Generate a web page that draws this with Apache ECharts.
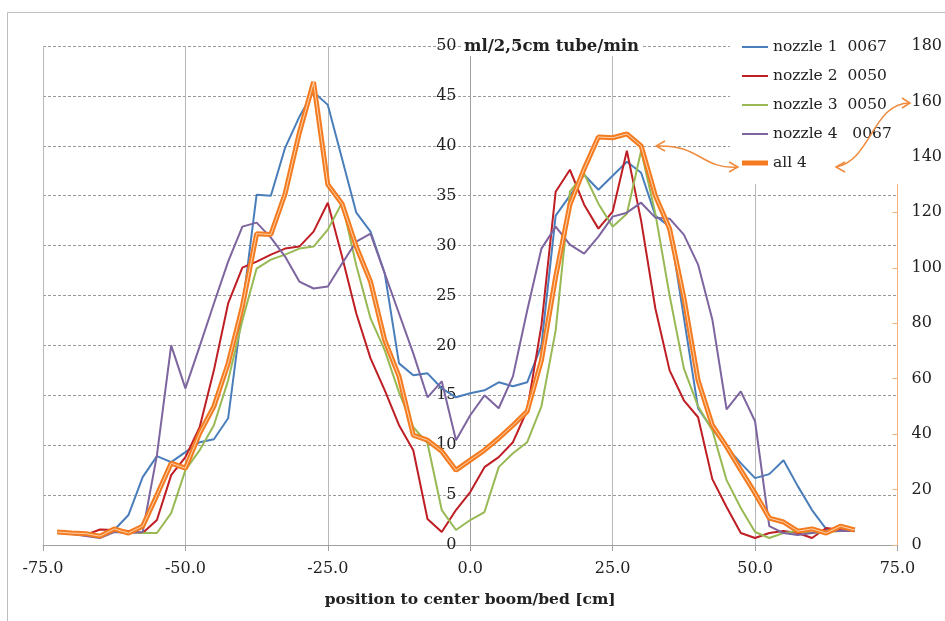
<!DOCTYPE html>
<html><head><meta charset="utf-8">
<script src="https://cdn.jsdelivr.net/npm/echarts@6/dist/echarts.min.js"></script>
<style>html,body{margin:0;padding:0;background:#fff}#c{width:945px;height:621px}</style>
</head><body><div id="c"></div>
<script>
// x positions [cm]
const positions = [-72.5,-70,-67.5,-65,-62.5,-60,-57.5,-55,-52.5,-50,-47.5,-45,-42.5,-40,-37.5,-35,-32.5,-30,-27.5,-25,-22.5,-20,-17.5,-15,-12.5,-10,-7.5,-5,-2.5,0,2.5,5,7.5,10,12.5,15,17.5,20,22.5,25,27.5,30,32.5,35,37.5,40,42.5,45,47.5,50,52.5,55,57.5,60,62.5,65,67.5];
// ml/2,5cm tube/min (left axis)
const nozzle1 = [1.3,1.2,1.0,0.8,1.5,3.0,6.8,8.9,8.3,9.3, 10.3,10.6,12.7,23.7,35.1,35.0,39.8,42.9,45.4,44.1, 38.7,33.3,31.4,27.2,18.2,17.0,17.2,15.7,14.8,15.2, 15.5,16.3,15.9,16.3,20.0,33.0,35.0,37.1,35.6,37.0, 38.4,37.3,33.0,31.9,22.8,13.7,11.6,9.8,8.2,6.7, 7.1,8.5,5.9,3.5,1.6,1.4,1.4];
const nozzle2 = [1.4,1.2,1.0,1.55,1.5,1.4,1.2,2.5,7.0,8.8, 11.8,17.5,24.2,27.8,28.4,29.1,29.7,29.9,31.4,34.3, 28.9,23.2,18.7,15.5,12.0,9.5,2.6,1.3,3.5,5.3, 7.8,8.8,10.3,13.5,22.0,35.4,37.6,34.1,31.7,33.4, 39.5,32.5,23.7,17.5,14.5,12.8,6.6,3.8,1.2,0.7, 1.2,1.4,1.2,0.7,1.7,1.5,1.4];
const nozzle3 = [1.4,1.2,1.0,0.9,1.4,1.3,1.2,1.2,3.2,7.5, 9.5,12.0,16.5,22.5,27.7,28.6,29.1,29.7,29.9,31.6, 34.3,28.0,22.7,19.5,15.3,11.8,10.2,3.5,1.5,2.5, 3.3,7.8,9.2,10.3,13.9,21.5,35.4,37.2,34.2,31.9, 33.2,39.5,33.2,25.0,17.7,13.9,11.5,6.5,3.7,1.3, 0.7,1.2,1.4,1.2,1.3,1.4,1.4];
const nozzle4 = [1.3,1.1,0.9,0.7,1.3,1.2,1.3,9.0,20.0,15.7, 19.9,24.2,28.4,31.9,32.3,30.8,28.9,26.4,25.7,25.9, 28.2,30.4,31.2,27.2,23.2,19.2,14.8,16.4,10.5,13.0, 15.0,13.7,16.9,23.5,29.7,31.9,30.1,29.2,30.9,32.9, 33.3,34.3,32.8,32.7,31.1,28.1,22.6,13.6,15.4,12.4, 1.9,1.2,1.0,1.2,1.4,1.4,1.4];
// all 4 (right axis)
const all4 = [4.7,4.3,4.1,3.2,5.8,4.3,6.8,18.0,29.5,27.7, 40.3,50.0,65.5,86.0,112.3,112.0,126.7,148.7,167.0,130.0, 123.1,107.6,95.0,73.8,60.8,39.6,37.8,33.8,27.0,30.6, 34.2,38.5,43.2,48.2,66.6,96.8,122.8,135.7,147.2,146.9, 148.3,144.0,126.0,114.1,89.3,59.4,43.2,35.5,27.0,18.7, 9.7,8.3,5.0,5.8,4.3,6.8,5.4];
const seriesNames = ['nozzle 1  0067','nozzle 2  0050','nozzle 3  0050','nozzle 4   0067','all 4'];
const xTickLabels = ['-75.0','-50.0','-25.0','0.0','25.0','50.0','75.0'];
const xTickValues = [-75,-50,-25,0,25,50,75];
const leftTickLabels = ['0','5','10','15','20','25','30','35','40','45','50'];
const rightTickLabels = ['0','20','40','60','80','100','120','140','160','180'];

const FONT = 'DejaVu Serif';
const colors = ['#4A7EBB','#BE1E24','#98B954','#7D659F','#F47B20'];
const pairs = arr => positions.map((x, i) => [x, arr[i]]);
const thinIcon = 'path://M0,0M26,14M0,6h26v2h-26z';
const thickIcon = 'path://M0,0M26,14M0,4.5h26v5h-26z';
const ARROW = '#F08A3C';

const chart = echarts.init(document.getElementById('c'));
const nozzleSeries = [nozzle1, nozzle2, nozzle3, nozzle4].map((arr, i) => ({
  name: seriesNames[i], type: 'line', data: pairs(arr), symbol: 'none',
  lineStyle: {width: 2, color: colors[i]}, itemStyle: {color: colors[i]}, z: 2
}));
const orange = {
  name: seriesNames[4], type: 'line', yAxisIndex: 1, data: pairs(all4), symbol: 'none',
  lineStyle: {width: 5, color: colors[4]}, itemStyle: {color: colors[4]}, z: 3
};
const orangeInner = {
  name: 'all4_inner', type: 'line', yAxisIndex: 1, data: pairs(all4), symbol: 'none',
  lineStyle: {width: 1, color: '#FBD3AE'}, itemStyle: {color: '#FBD3AE'}, z: 3
};
const arrowStyle = {stroke: ARROW, lineWidth: 1.5, fill: 'none'};

chart.setOption({
  animation: false,
  backgroundColor: '#fff',
  grid: {left: 43, right: 47, top: 46, bottom: 76},
  legend: {
    data: seriesNames.map((n, i) => ({name: n, icon: i === 4 ? thickIcon : thinIcon})),
    orient: 'vertical', left: 730, top: 28, zlevel: 1, z: 6,
    padding: [11, 10, 15, 12], itemWidth: 26, itemHeight: 14, itemGap: 13,
    textStyle: {fontFamily: FONT, fontSize: 15.5, color: '#222'}
  },
  xAxis: {
    type: 'value', min: -75, max: 75, interval: 25,
    axisLine: {lineStyle: {color: '#a0a0a0'}},
    axisTick: {show: true, length: 6, lineStyle: {color: '#a0a0a0'}},
    axisLabel: {margin: 16, color: '#222', fontFamily: FONT, fontSize: 16,
      formatter: v => xTickLabels[xTickValues.indexOf(v)] ?? v.toFixed(1)},
    splitLine: {show: true, lineStyle: {color: '#b8b8b8', width: 1}},
    name: 'position to center boom/bed [cm]', nameLocation: 'middle', nameGap: 47,
    nameTextStyle: {fontFamily: FONT, fontSize: 15.5, fontWeight: 'bold', color: '#222'}
  },
  yAxis: [{
    type: 'value', min: 0, max: 50, interval: 5, position: 'left',
    axisLine: {show: false}, axisTick: {show: false}, axisLabel: {show: false},
    splitLine: {show: true, lineStyle: {color: '#9a9a9a', type: [3, 2], width: 1}}
  }, {
    type: 'value', min: 0, max: 180, interval: 20, position: 'right',
    axisLine: {show: true, onZero: false, lineStyle: {color: '#F5B27A'}},
    axisTick: {show: true, inside: true, length: 5, lineStyle: {color: '#F5B27A'}},
    axisLabel: {margin: 14, color: '#222', fontFamily: FONT, fontSize: 16,
      formatter: v => rightTickLabels[Math.round(v / 20)]},
    splitLine: {show: false}
  }, {
    type: 'value', min: 0, max: 50, interval: 5, position: 'left', offset: -427.5,
    axisLine: {show: true, onZero: false, lineStyle: {color: '#a0a0a0'}},
    axisTick: {show: false},
    axisLabel: {margin: 14, color: '#222', fontFamily: FONT, fontSize: 16,
      formatter: v => leftTickLabels[Math.round(v / 5)]},
    splitLine: {show: false}
  }],
  graphic: [
    {type: 'rect', shape: {x: 7.5, y: 12.5, width: 960, height: 640}, style: {fill: 'none', stroke: '#bdbdbd', lineWidth: 1}, z: 1, silent: true},
    {type: 'rect', zlevel: 1, z: 0, shape: {x: 730, y: 28, width: 171, height: 156}, style: {fill: '#fff'}, silent: true},
    {type: 'text', zlevel: 1, z: 5, x: 461, y: 37, style: {text: 'ml/2,5cm tube/min', font: 'bold 16.5px "DejaVu Serif"', fill: '#222', backgroundColor: '#fff', padding: [1, 3]}},
    {type: 'bezierCurve', zlevel: 1, z: 7, shape: {x1: 656, y1: 146, cpx1: 700, cpy1: 144, cpx2: 702, cpy2: 170, x2: 738, y2: 167}, style: arrowStyle},
    {type: 'polyline', zlevel: 1, z: 7, shape: {points: [[665, 141], [656, 146], [665, 151]]}, style: arrowStyle},
    {type: 'polyline', zlevel: 1, z: 7, shape: {points: [[729, 162], [738, 167], [729, 172]]}, style: arrowStyle},
    {type: 'bezierCurve', zlevel: 1, z: 7, shape: {x1: 836, y1: 167, cpx1: 872, cpy1: 160, cpx2: 872, cpy2: 103, x2: 910, y2: 103}, style: arrowStyle},
    {type: 'polyline', zlevel: 1, z: 7, shape: {points: [[845, 162], [836, 167], [845, 172]]}, style: arrowStyle},
    {type: 'polyline', zlevel: 1, z: 7, shape: {points: [[902, 98], [910, 103], [902, 108]]}, style: arrowStyle}
  ],
  series: [...nozzleSeries, orange, orangeInner]
});
</script></body></html>
